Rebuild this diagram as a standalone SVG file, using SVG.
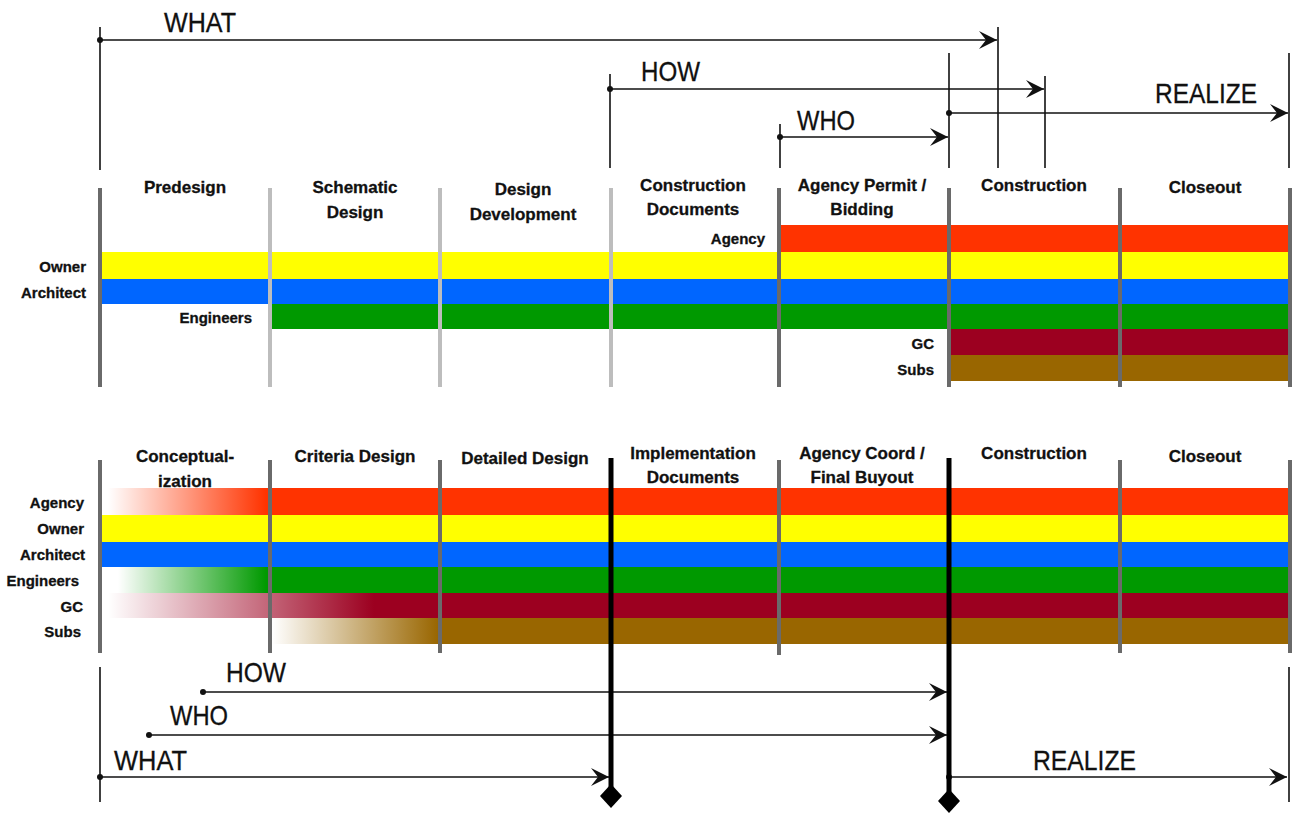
<svg xmlns="http://www.w3.org/2000/svg" width="1297" height="814" viewBox="0 0 1297 814">
<style>
.ph{font-family:"Liberation Sans",Arial,sans-serif;font-weight:bold;font-size:17px;fill:#111;stroke:#111;stroke-width:0.3;text-anchor:middle}
.rl{font-family:"Liberation Sans",Arial,sans-serif;font-weight:bold;font-size:15px;fill:#111;stroke:#111;stroke-width:0.3;text-anchor:end}
.al{font-family:"Liberation Sans",Arial,sans-serif;font-size:28px;fill:#111;stroke:#111;stroke-width:0.3}
.dk{stroke:#6a6a6a;stroke-width:4}
.lt{stroke:#bdbdbd;stroke-width:4}
.bk{stroke:#000;stroke-width:5}
.tk{stroke:#111;stroke-width:1.6;fill:none}
.ar{stroke:#111;stroke-width:1.6;fill:none;marker-end:url(#ah)}
.dot{fill:#111}
</style>
<defs>
<marker id="ah" viewBox="-19 -10 20 20" refX="0" refY="0" markerWidth="20" markerHeight="20" markerUnits="userSpaceOnUse" orient="auto">
<path d="M-18,-9 L0,0 L-18,9 L-11,0 z" fill="#111"/>
</marker>
<linearGradient id="gAg" gradientUnits="userSpaceOnUse" x1="108" y1="0" x2="266" y2="0"><stop offset="0" stop-color="#ff3300" stop-opacity="0"/><stop offset="1" stop-color="#ff3300" stop-opacity="1"/></linearGradient>
<linearGradient id="gEn" gradientUnits="userSpaceOnUse" x1="118" y1="0" x2="266" y2="0"><stop offset="0" stop-color="#009900" stop-opacity="0"/><stop offset="1" stop-color="#009900" stop-opacity="1"/></linearGradient>
<linearGradient id="gGC" gradientUnits="userSpaceOnUse" x1="108" y1="0" x2="374" y2="0"><stop offset="0" stop-color="#9c0020" stop-opacity="0"/><stop offset="1" stop-color="#9c0020" stop-opacity="1"/></linearGradient>
<linearGradient id="gSb" gradientUnits="userSpaceOnUse" x1="272" y1="0" x2="438" y2="0"><stop offset="0" stop-color="#996600" stop-opacity="0"/><stop offset="1" stop-color="#996600" stop-opacity="1"/></linearGradient>
</defs>
<rect width="1297" height="814" fill="#fff"/>

<!-- TOP SECTION -->
<g id="top-bands">
<rect id="t-agency" x="781" y="225" width="509" height="27" fill="#ff3300"/>
<rect id="t-owner" x="100" y="252" width="1190" height="27" fill="#ffff00"/>
<rect id="t-architect" x="100" y="279" width="1190" height="25" fill="#0066ff"/>
<rect id="t-engineers" x="270" y="304" width="1020" height="25" fill="#009900"/>
<rect id="t-gc" x="949" y="329" width="341" height="26" fill="#9c0020"/>
<rect id="t-subs" x="949" y="355" width="341" height="26" fill="#996600"/>
</g>
<g id="top-dividers">
<line class="dk" x1="100" y1="188" x2="100" y2="387"/>
<line class="lt" x1="270" y1="188" x2="270" y2="387"/>
<line class="lt" x1="440" y1="188" x2="440" y2="387"/>
<line class="lt" x1="611" y1="188" x2="611" y2="387"/>
<line class="dk" x1="779" y1="188" x2="779" y2="387"/>
<line class="dk" x1="949" y1="188" x2="949" y2="387"/>
<line class="dk" x1="1120" y1="188" x2="1120" y2="387"/>
<line class="dk" x1="1290" y1="188" x2="1290" y2="387"/>
</g>
<g id="top-phases">
<text class="ph" x="185" y="193">Predesign</text>
<text class="ph" x="355" y="193">Schematic</text>
<text class="ph" x="355" y="218">Design</text>
<text class="ph" x="523" y="195">Design</text>
<text class="ph" x="523" y="220">Development</text>
<text class="ph" x="693" y="191">Construction</text>
<text class="ph" x="693" y="215">Documents</text>
<text class="ph" x="862" y="191">Agency Permit /</text>
<text class="ph" x="862" y="215">Bidding</text>
<text class="ph" x="1034" y="191">Construction</text>
<text class="ph" x="1205" y="193">Closeout</text>
</g>
<g id="top-roles">
<text class="rl" x="765" y="244">Agency</text>
<text class="rl" x="86" y="272">Owner</text>
<text class="rl" x="86" y="298">Architect</text>
<text class="rl" x="252" y="323">Engineers</text>
<text class="rl" x="934" y="349">GC</text>
<text class="rl" x="934" y="375">Subs</text>
</g>
<g id="top-connectors">
<line class="tk" x1="100" y1="27" x2="100" y2="170"/>
<line class="tk" x1="998" y1="27" x2="998" y2="168"/>
<line class="tk" x1="610" y1="74" x2="610" y2="168"/>
<line class="tk" x1="1045" y1="76" x2="1045" y2="168"/>
<line class="tk" x1="780" y1="124" x2="780" y2="168"/>
<line class="tk" x1="949" y1="53" x2="949" y2="168"/>
<line class="tk" x1="1289" y1="53" x2="1289" y2="168"/>
<line class="ar" x1="100" y1="40" x2="997" y2="40"/>
<line class="ar" x1="610" y1="89" x2="1044" y2="89"/>
<line class="ar" x1="780" y1="137" x2="948" y2="137"/>
<line class="ar" x1="949" y1="113" x2="1288" y2="113"/>
<circle class="dot" cx="100" cy="40" r="3"/>
<circle class="dot" cx="610" cy="89" r="3"/>
<circle class="dot" cx="780" cy="137" r="3"/>
<circle class="dot" cx="949" cy="113" r="3"/>
</g>
<g id="top-labels">
<text class="al" x="164" y="32" textLength="72" lengthAdjust="spacingAndGlyphs">WHAT</text>
<text class="al" x="641" y="81" textLength="59" lengthAdjust="spacingAndGlyphs">HOW</text>
<text class="al" x="797" y="130" textLength="58" lengthAdjust="spacingAndGlyphs">WHO</text>
<text class="al" x="1155" y="103" textLength="102" lengthAdjust="spacingAndGlyphs">REALIZE</text>
</g>

<!-- BOTTOM SECTION -->
<g id="bottom-bands">
<rect id="b-agency" x="100" y="488" width="1190" height="27" fill="url(#gAg)"/>
<rect id="b-owner" x="100" y="515" width="1190" height="27" fill="#ffff00"/>
<rect id="b-architect" x="100" y="542" width="1190" height="25" fill="#0066ff"/>
<rect id="b-engineers" x="100" y="567" width="1190" height="26" fill="url(#gEn)"/>
<rect id="b-gc" x="100" y="593" width="1190" height="25" fill="url(#gGC)"/>
<rect id="b-subs" x="270" y="618" width="1020" height="26" fill="url(#gSb)"/>
</g>
<g id="bottom-dividers">
<line class="dk" x1="100" y1="460" x2="100" y2="653"/>
<line class="dk" x1="270" y1="460" x2="270" y2="653"/>
<line class="dk" x1="440" y1="460" x2="440" y2="653"/>
<line class="dk" x1="779" y1="460" x2="779" y2="655"/>
<line class="dk" x1="1120" y1="460" x2="1120" y2="653"/>
<line class="dk" x1="1290" y1="460" x2="1290" y2="653"/>
</g>
<g id="bottom-phases">
<text class="ph" x="185" y="462">Conceptual-</text>
<text class="ph" x="185" y="487">ization</text>
<text class="ph" x="355" y="462">Criteria Design</text>
<text class="ph" x="525" y="464">Detailed Design</text>
<text class="ph" x="693" y="459">Implementation</text>
<text class="ph" x="693" y="483">Documents</text>
<text class="ph" x="862" y="459">Agency Coord /</text>
<text class="ph" x="862" y="483">Final Buyout</text>
<text class="ph" x="1034" y="459">Construction</text>
<text class="ph" x="1205" y="462">Closeout</text>
</g>
<g id="bottom-roles">
<text class="rl" x="84" y="508">Agency</text>
<text class="rl" x="84" y="534">Owner</text>
<text class="rl" x="85" y="560">Architect</text>
<text class="rl" x="79" y="586">Engineers</text>
<text class="rl" x="83" y="612">GC</text>
<text class="rl" x="81" y="637">Subs</text>
</g>
<g id="bottom-connectors">
<line class="tk" x1="100" y1="667" x2="100" y2="802"/>
<line class="tk" x1="1289" y1="667" x2="1289" y2="802"/>
<line class="ar" x1="203" y1="692" x2="947" y2="692"/>
<line class="ar" x1="149" y1="735" x2="947" y2="735"/>
<line class="ar" x1="100" y1="777" x2="609" y2="777"/>
<line class="ar" x1="949" y1="777" x2="1287" y2="777"/>
<circle class="dot" cx="203" cy="692" r="3"/>
<circle class="dot" cx="149" cy="735" r="3"/>
<circle class="dot" cx="100" cy="777" r="3"/>
<circle class="dot" cx="949" cy="777" r="3"/>
</g>
<g id="milestone-1">
<line class="bk" x1="611" y1="458" x2="611" y2="790"/>
<path d="M611,784 L622,796 L611,808 L600,796 z" fill="#000"/>
</g>
<g id="milestone-2">
<line class="bk" x1="949" y1="458" x2="949" y2="792"/>
<path d="M949,789 L960,801 L949,813 L938,801 z" fill="#000"/>
</g>
<g id="bottom-labels">
<text class="al" x="226" y="682" textLength="60" lengthAdjust="spacingAndGlyphs">HOW</text>
<text class="al" x="170" y="725" textLength="58" lengthAdjust="spacingAndGlyphs">WHO</text>
<text class="al" x="114" y="770" textLength="73" lengthAdjust="spacingAndGlyphs">WHAT</text>
<text class="al" x="1033" y="770" textLength="103" lengthAdjust="spacingAndGlyphs">REALIZE</text>
</g>
</svg>
